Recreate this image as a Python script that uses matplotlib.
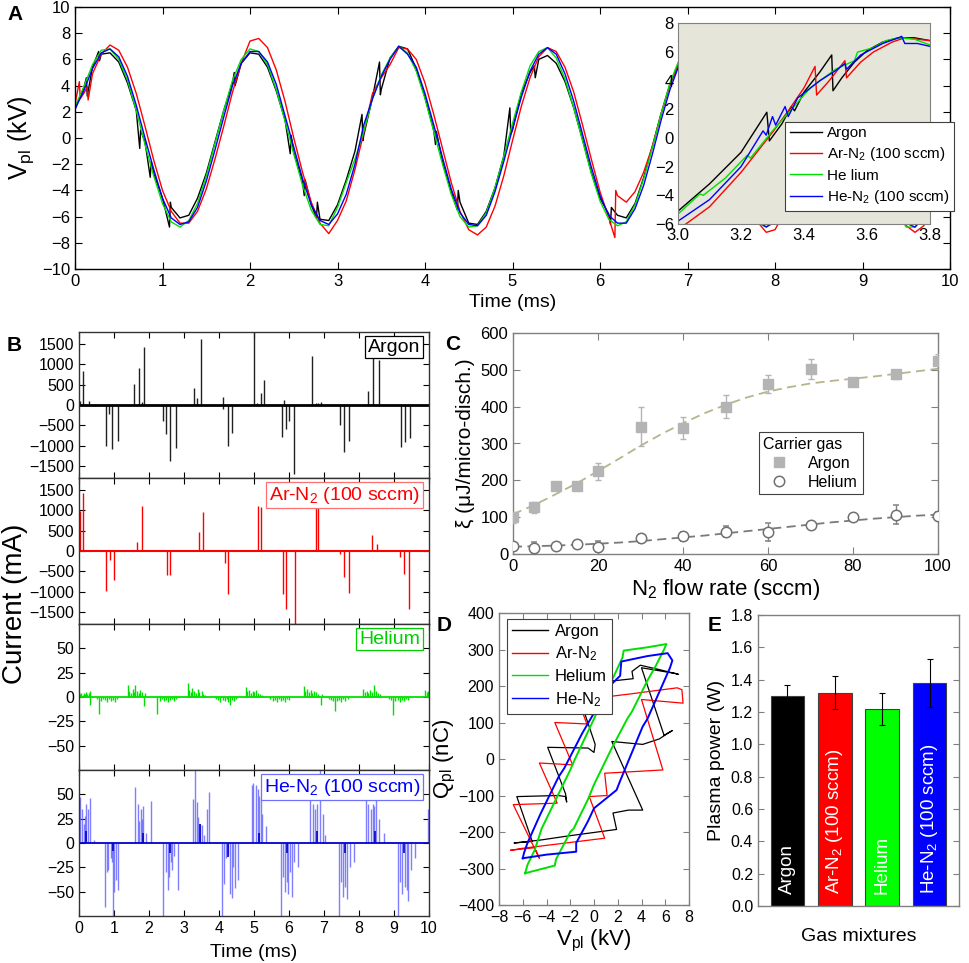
import numpy as np
import matplotlib
matplotlib.use('Agg')
import matplotlib.pyplot as plt
from matplotlib.lines import Line2D

plt.rcParams['font.family'] = ['Liberation Sans', 'DejaVu Sans']
plt.rcParams['mathtext.fontset'] = 'custom'
plt.rcParams['mathtext.rm'] = 'Liberation Sans'
plt.rcParams['mathtext.it'] = 'Liberation Sans:italic'
plt.rcParams['mathtext.bf'] = 'Liberation Sans:bold'
plt.rcParams['xtick.direction'] = 'in'
plt.rcParams['ytick.direction'] = 'in'
plt.rcParams['axes.linewidth'] = 1.0

# ---------------- Panel A data (V_pl vs time, sampled every 0.1 ms) ----------------
time_ms = np.round(np.arange(0, 10.001, 0.1), 1)
v_argon = [2.2, 3.8, 5.4, 6.4, 6.5, 5.8, 4.2, 2.1, -0.3, -2.7,
           -4.6, -5.3, -6.1, -5.9, -4.6, -2.7, -0.3, 2.1, 4.2, 5.7,
           6.5, 6.4, 5.4, 3.6, 1.4, -1.1, -3.3, -5.1, -6.2, -6.3,
           -5.1, -3.2, -1.0, 0.2, 3.1, 3.7, 6.1, 7.0, 6.8, 5.3,
           3.1, 0.6, -1.8, -4.1, -4.9, -6.5, -6.6, -5.6, -3.8, -1.4,
           0.6, 3.4, 5.0, 6.0, 6.3, 5.7, 4.3, 2.3, -0.1, -2.6,
           -4.6, -5.8, -5.9, -6.1, -5.0, -3.0, -0.6, 1.9, 4.1, 5.7,
           6.5, 6.5, 5.6, 3.9, 1.6, -0.9, -3.3, -5.1, -6.3, -6.6,
           -6.0, -4.5, -2.4, 0.1, 2.5, 4.6, 6.0, 6.6, 6.3, 5.1,
           3.2, 0.8, -1.7, -3.9, -5.6, -6.5, -6.5, -5.6, -3.9, -1.6,
           1.0]
v_arn2 = [2.6, 3.4, 4.9, 6.4, 7.1, 6.7, 5.4, 3.4, 0.9, -1.7,
          -4.0, -5.6, -6.5, -6.5, -5.6, -3.9, -1.6, 0.9, 3.5, 5.7,
          7.4, 7.6, 6.9, 5.2, 2.8, 0.0, -2.6, -4.9, -6.5, -7.3,
          -6.3, -4.8, -2.4, 0.4, 3.4, 4.6, 5.6, 6.9, 6.8, 6.0,
          4.2, 1.8, -0.8, -3.4, -5.6, -7.0, -7.4, -6.8, -5.2, -2.9,
          -0.2, 2.4, 4.6, 6.2, 6.9, 6.6, 5.4, 3.5, 1.0, -1.6,
          -4.1, -6.1, -4.4, -4.9, -4.1, -2.6, -0.6, 1.9, 4.1, 5.6,
          6.7, 7.1, 6.6, 5.1, 2.9, 0.3, -2.4, -4.7, -6.4, -7.2,
          -7.0, -5.8, -3.8, -1.3, 1.4, 3.9, 5.8, 6.9, 7.0, 6.2,
          4.5, 2.1, -0.5, -3.1, -5.3, -6.7, -7.2, -6.7, -5.2, -3.0,
          0.7]
v_helium = [2.4, 3.9, 5.6, 6.7, 6.8, 6.0, 4.4, 2.1, -0.5, -2.9,
            -5.0, -6.4, -6.8, -6.3, -5.0, -2.9, -0.4, 2.1, 4.4, 6.0,
            6.8, 6.6, 5.6, 3.7, 1.3, -1.2, -3.6, -5.5, -6.6, -6.7,
            -5.3, -3.4, -1.6, 0.5, 3.0, 4.8, 6.1, 7.0, 6.5, 5.1,
            3.0, 0.5, -2.0, -4.3, -6.0, -6.8, -6.7, -5.7, -3.8, -1.4,
            1.1, 3.5, 5.5, 6.6, 6.9, 6.1, 4.5, 2.3, -0.2, -2.7,
            -4.8, -6.2, -6.7, -6.4, -5.1, -3.1, -0.7, 1.9, 4.2, 5.9,
            6.8, 6.7, 5.7, 3.9, 1.5, -1.0, -3.4, -5.3, -6.5, -6.8,
            -6.1, -4.6, -2.4, 0.1, 2.6, 4.8, 6.3, 6.9, 6.5, 5.3,
            3.3, 0.8, -1.8, -4.1, -5.8, -6.8, -6.8, -5.8, -4.0, -1.7,
            1.1]
v_hen2 = [2.2, 3.6, 5.3, 6.5, 6.8, 6.2, 4.7, 2.5, 0.0, -2.4,
          -4.6, -6.1, -6.6, -6.4, -5.3, -3.3, -0.9, 1.6, 4.0, 5.7,
          6.6, 6.6, 5.8, 4.1, 1.7, -0.7, -3.1, -5.1, -6.3, -6.6,
          -5.8, -4.3, -2.0, 1.0, 3.0, 4.7, 6.0, 7.0, 6.4, 5.4,
          3.4, 1.0, -1.5, -3.9, -5.7, -6.6, -6.7, -5.9, -4.1, -1.8,
          0.7, 3.1, 5.1, 6.4, 6.9, 6.4, 4.9, 2.8, 0.3, -2.2,
          -4.4, -5.9, -6.5, -6.5, -5.4, -3.6, -1.2, 1.4, 3.7, 5.5,
          6.6, 6.8, 6.0, 4.3, 2.0, -0.5, -3.0, -5.0, -6.3, -6.8,
          -6.4, -5.0, -3.0, -0.5, 2.1, 4.3, 5.9, 6.8, 6.7, 5.7,
          3.8, 1.4, -1.2, -3.5, -5.4, -6.5, -6.8, -6.1, -4.5, -2.3,
          1.0]
# discharge jumps (extra read points)
jump_t_argon = [0.13, 0.14, 0.27, 0.28, 0.74, 0.75, 0.86, 0.87, 1.08, 1.09, 1.82, 1.83,
                2.46, 2.47, 2.62, 2.63, 2.76, 2.77, 3.28, 3.29, 3.48, 3.49, 4.12, 4.13,
                4.37, 4.38, 4.97, 4.98, 5.25, 5.26, 6.12, 6.13]
jump_v_argon = [4.6, 3.2, 6.6, 5.9, -0.8, 0.6, -3.0, -1.8, -6.8, -4.9, 5.0, 4.0,
                -1.2, 0.2, -4.4, -3.2, -6.1, -4.9, 1.8, -0.2, 5.8, 3.3, -0.5, 0.5,
                -5.5, -4.0, 2.3, 0.3, 5.5, 4.6, -6.6, -5.3]
jump_t_arn2 = [0.05, 0.06, 0.14, 0.15, 6.17, 6.18]
jump_v_arn2 = [4.3, 3.0, 3.9, 2.9, -7.6, -4.0]

# inset (3.0-3.8 ms)
ins_t_argon = [3.00, 3.10, 3.20, 3.282, 3.29, 3.33, 3.36, 3.37, 3.40, 3.45, 3.488, 3.492,
               3.52, 3.56, 3.60, 3.65, 3.70, 3.75, 3.80]
ins_v_argon = [-5.1, -3.2, -1.0, 1.8, -0.2, 1.0, 2.2, 1.9, 3.2, 4.6, 5.8, 3.3,
               4.2, 5.3, 6.1, 6.7, 7.0, 7.0, 6.8]
ins_t_arn2 = [3.00, 3.10, 3.20, 3.30, 3.35, 3.40, 3.435, 3.44, 3.48, 3.53, 3.535, 3.58,
              3.62, 3.68, 3.72, 3.76, 3.80]
ins_v_arn2 = [-6.4, -4.8, -2.4, 0.4, 1.9, 3.5, 5.0, 3.0, 4.0, 5.4, 4.2, 5.3,
              6.0, 6.7, 7.0, 6.9, 6.8]
ins_t_he = [3.00, 3.07, 3.08, 3.15, 3.22, 3.23, 3.30, 3.36, 3.42, 3.50, 3.56, 3.57,
            3.62, 3.66, 3.70, 3.75, 3.80]
ins_v_he = [-5.3, -3.9, -4.0, -2.8, -1.2, -1.4, 0.5, 2.0, 3.5, 4.8, 5.4, 6.0,
            6.3, 6.8, 7.0, 6.9, 6.5]
ins_t_hen2 = [3.00, 3.10, 3.20, 3.27, 3.28, 3.30, 3.31, 3.34, 3.35, 3.38, 3.45, 3.50,
              3.53, 3.535, 3.58, 3.65, 3.70, 3.71, 3.72, 3.76, 3.80]
ins_v_hen2 = [-5.8, -4.3, -2.0, 0.5, 0.2, 1.5, 0.9, 2.2, 1.5, 2.8, 4.0, 4.7,
              5.2, 4.8, 5.8, 6.6, 7.0, 7.1, 6.6, 6.6, 6.4]
legend_A = ['Argon', 'Ar-N$_2$ (100 sccm)', 'He lium', 'He-N$_2$ (100 sccm)']

# ---------------- Panel B data (current spikes, mA) ----------------
spk_t_argon = [0.03, 0.12, 0.28, 1.57, 1.70, 1.79, 1.87, 3.29, 3.36, 3.49, 4.10, 5.00,
               5.09, 5.20, 5.29, 5.85, 6.66, 6.76, 6.82, 6.91, 8.26, 8.41, 8.58,
               0.76, 0.85, 0.95, 1.10, 2.41, 2.48, 2.61, 2.76, 4.10, 4.26, 4.38,
               5.79, 5.90, 6.00, 6.14, 7.46, 7.58, 7.70, 9.19, 9.30, 9.46]
spk_v_argon = [100, 850, 100, 530, 920, 80, 1430, 420, 170, 1620, 200, 1790,
               50, 300, 620, 120, 1200, 60, 60, 80, 340, 1300, 1100,
               -1010, -220, -1080, -880, -390, -720, -1370, -1070, -100, -1000, -700,
               -790, -580, -400, -1690, -490, -1170, -900, -1040, -910, -820]
spk_t_arn2 = [0.04, 0.10, 1.65, 1.80, 3.43, 3.53, 5.11, 5.20, 6.60, 6.77, 6.83, 8.36, 8.51,
              0.78, 0.89, 1.01, 2.52, 2.60, 4.18, 4.26, 5.84, 5.90, 6.18, 7.47, 7.56,
              7.72, 9.17, 9.28, 9.44]
spk_v_arn2 = [990, 1420, 230, 1110, 470, 950, 1100, 1080, 30, 1150, 1150, 390, 180,
              -990, -230, -725, -600, -580, -300, -1055, -1070, -1420, -1800, -80, -635,
              -1045, -150, -560, -1440]
spk_t_he = [0.01, 0.04, 0.07, 0.10, 0.13, 0.16, 0.20, 0.24, 0.28, 0.30, 0.31,
            0.52, 0.57, 0.62, 0.68, 0.74, 0.80, 0.86, 0.92, 0.98, 1.03, 1.08,
            1.39, 1.43, 1.48, 1.53, 1.57, 1.61, 1.65, 1.70, 1.75, 1.80, 1.85, 1.88,
            2.24, 2.30, 2.36, 2.42, 2.48, 2.54, 2.60, 2.66, 2.72, 2.78,
            3.10, 3.14, 3.19, 3.24, 3.29, 3.34, 3.39, 3.44, 3.50, 3.55, 3.60,
            3.92, 3.98, 4.04, 4.10, 4.16, 4.22, 4.27, 4.31, 4.36, 4.42, 4.48,
            4.77, 4.81, 4.86, 4.91, 4.96, 5.01, 5.06, 5.12, 5.18, 5.24,
            5.47, 5.53, 5.59, 5.65, 5.71, 5.77, 5.83, 5.89, 5.95, 6.01,
            6.43, 6.47, 6.52, 6.57, 6.62, 6.67, 6.72, 6.78, 6.84, 6.90, 6.93,
            7.15, 7.21, 7.27, 7.30, 7.36, 7.42, 7.48, 7.54, 7.60, 7.68,
            8.12, 8.17, 8.22, 8.27, 8.32, 8.37, 8.43, 8.48, 8.54, 8.60,
            8.85, 8.91, 8.98, 9.04, 9.10, 9.16, 9.22, 9.28, 9.34, 9.40,
            9.88, 9.93, 9.97]
spk_v_he = [5, 3, 4, 2, 4, 3, 5, 3, 4, 6, -8,
            -2, -17, -4, -2, -3, -5, -2, -4, -3, -5, -2,
            12, 6, 4, 8, 5, 12, 6, 4, 7, 5, -9, 4,
            -17, -4, -2, -4, -3, -5, -3, -2, -4, -2,
            14, 7, 5, 9, 6, 4, 8, 5, 6, 3, 2,
            -2, -3, -5, -3, -4, -2, -5, -8, -3, -4, -2,
            10, 6, 7, 4, 6, 5, 7, 4, 3, 2,
            -2, -4, -3, -5, -2, -4, -3, -5, -2, -3,
            11, 6, 8, 5, 7, 4, 6, 5, 3, -8, 3,
            -2, -3, -4, -14, -4, -3, -5, -2, -4, -2,
            8, 5, 6, 4, 7, 5, 12, 6, 4, 3,
            -2, -3, -19, -4, -3, -5, -3, -4, -2, -3,
            7, 5, 6]
spk_t_hen2 = [0.03, 0.08, 0.14, 0.18, 0.21, 0.25, 0.30, 0.44,
              1.60, 1.69, 1.71, 1.76, 1.79, 1.84, 1.90, 2.05,
              3.25, 3.31, 3.36, 3.41, 3.46, 3.50, 3.57, 3.65, 3.72,
              4.93, 4.98, 5.05, 5.11, 5.15, 5.19, 5.24, 5.34,
              6.60, 6.68, 6.74, 6.81, 6.89, 6.96, 7.03,
              8.21, 8.27, 8.34, 8.40, 8.44, 8.49, 8.57, 8.71, 9.98,
              0.74, 0.79, 0.84, 0.90, 0.94, 0.97, 1.01, 1.05, 1.10,
              2.41, 2.48, 2.53, 2.58, 2.62, 2.67, 2.71, 2.82,
              4.08, 4.14, 4.19, 4.25, 4.31, 4.37, 4.41, 4.47, 4.53,
              5.76, 5.83, 5.88, 5.93, 5.97, 6.02, 6.08, 6.14, 6.27,
              7.43, 7.49, 7.55, 7.61, 7.67, 7.73, 7.87,
              9.10, 9.17, 9.24, 9.30, 9.36, 9.41, 9.48, 9.60]
spk_v_hen2 = [47, 35, 20, 28, 40, 35, 46, 3,
              58, 40, 23, 35, 25, 38, 10, 43,
              45, 75, 42, 27, 20, 18, 8, 35, 52,
              60, 62, 60, 55, 48, 45, 30, 17,
              45, 40, 35, 40, 75, 30, 8,
              60, 40, 35, 40, 38, 50, 25, 10, 35,
              -66, -30, -28, -15, -20, -75, -50, -38, -48,
              -75, -30, -48, -35, -20, -28, -13, -48,
              -75, -42, -15, -12, -52, -57, -25, -46, -38,
              -75, -35, -50, -40, -52, -30, -55, -20, -25,
              -75, -40, -55, -45, -58, -25, -20,
              -75, -40, -52, -45, -48, -60, -28, -15]
dark_t_hen2 = [0.20, 1.82, 3.45, 5.15, 6.80, 8.45, 0.98, 2.60, 4.27, 5.95, 7.60, 9.28]
dark_v_hen2 = [12, 10, 20, 10, 12, 12, -8, -10, -14, -10, -10, -10]
labels_B = ['Argon', 'Ar-N$_2$ (100 sccm)', 'Helium', 'He-N$_2$ (100 sccm)']

# ---------------- Panel C data ----------------
flow_sccm = [0, 5, 10, 15, 20, 30, 40, 50, 60, 70, 80, 90, 100]
xi_argon = [100, 127, 185, 185, 224, 346, 342, 400, 461, 502, 466, 488, 523]
xi_argon_err = [15, 15, 10, 8, 23, 53, 30, 31, 24, 28, 10, 12, 20]
xi_helium = [23, 17, 23, 26, 20, 43, 48, 60, 60, 80, 101, 107, 104]
xi_helium_err = [10, 15, 5, 5, 15, 12, 12, 15, 25, 8, 8, 25, 10]
fit_flow = [0, 5, 10, 15, 20, 25, 30, 35, 40, 45, 50, 55, 60, 65, 70, 75, 80, 85, 90, 95, 100]
fit_argon = [108, 133, 162, 192, 225, 259, 294, 326, 355, 382, 405, 425, 441, 453, 463,
             470, 476, 482, 489, 496, 503]
fit_helium = [20, 21, 23, 25, 28, 31, 35, 40, 45, 50, 56, 62, 68, 74, 80, 86, 91, 96, 100, 104, 107]

# ---------------- Panel D data (Q-V loops) ----------------
qv_V_argon = [-6.7, -5.2, -6.5, -3.0, -2.4, -2.3, -2.4, -3.9, -0.5, 0.0, 0.1, -1.2, 1.0, 3.3,
              3.2, 3.9, 5.5, 7.1, 6.9, 4.0, 5.9, 6.6, 6.2, 5.5, 4.1, 1.5, 4.1, 2.9, 1.6, 1.9,
              -2.0, -4.5, -6.7]
qv_Q_argon = [-230, -226, -103, -100, -103, -118, -95, 32, 30, 18, 40, 165, 212, 220,
              240, 257, 245, 232, 234, 250, 65, 78, 70, 55, 40, 48, -140, -140, -148, -193,
              -210, -222, -230]
qv_V_arn2 = [-7.0, -5.0, -4.6, -6.8, -3.1, -4.6, -1.8, -3.3, -0.6, -1.4, 0.2, 3.0, 7.0, 7.4,
             7.5, 4.0, 5.8, 0.9, 1.1, -0.4, 0.9, -6.1, -7.0]
qv_Q_arn2 = [-250, -243, -272, -125, -121, -11, -16, 100, 96, 165, 167, 178, 195, 190,
             153, 163, -30, -39, -100, -103, -217, -245, -250]
qv_V_he = [-5.8, -4.5, -3.3, -3.2, -2.0, -1.7, -0.5, 0.0, 1.2, 1.5, 2.8, 3.2, 4.5, 5.2, 5.9,
           6.1, 4.5, 2.5, 2.4, 1.5, 0.0, -1.6, -2.0, -3.5, -4.4, -5.0, -5.6, -5.8]
qv_Q_he = [-313, -302, -292, -275, -200, -190, -110, -70, 10, 30, 110, 130, 215, 255, 300,
           315, 306, 297, 278, 215, 110, 0, -30, -130, -190, -250, -290, -313]
qv_V_hen2 = [-6.0, -4.0, -1.5, -1.5, -0.5, 0.0, 1.9, 2.2, 4.1, 4.5, 6.4, 6.6, 6.2, 4.5, 2.3,
             2.2, 1.0, 0.0, -1.0, -2.5, -3.0, -4.5, -5.6, -5.9, -6.0]
qv_Q_hen2 = [-272, -262, -254, -230, -170, -135, -85, -60, 89, 110, 250, 270, 290, 282, 267,
             228, 190, 126, 70, -25, -50, -150, -230, -258, -272]
legend_D = ['Argon', 'Ar-N$_2$', 'Helium', 'He-N$_2$']

# ---------------- Panel E data ----------------
gas_mixtures = ['Argon', 'Ar-N$_2$ (100 sccm)', 'Helium', 'He-N$_2$ (100 sccm)']
plasma_power = [1.30, 1.32, 1.22, 1.38]
plasma_power_err = [0.07, 0.10, 0.10, 0.15]

C_BLACK, C_RED, C_GREEN, C_BLUE = '#000000', '#ff0000', '#00e000', '#0000ff'

W, H = 969, 963


def box(x0, y0, x1, y1):
    return [x0 / W, 1 - y1 / H, (x1 - x0) / W, (y1 - y0) / H]


def merged(t, v, et, ev):
    tt = np.concatenate([np.asarray(t, float), np.asarray(et, float)])
    vv = np.concatenate([np.asarray(v, float), np.asarray(ev, float)])
    o = np.argsort(tt, kind='stable')
    return tt[o], vv[o]


fig = plt.figure(figsize=(W / 100, H / 100), dpi=100)

# ================= Panel A =================
axA = fig.add_axes(box(75, 7, 950, 269))
ta, va = merged(time_ms, v_argon, jump_t_argon, jump_v_argon)
tr, vr = merged(time_ms, v_arn2, jump_t_arn2, jump_v_arn2)
axA.plot(ta, va, color=C_BLACK, lw=1.0)
axA.plot(tr, vr, color=C_RED, lw=1.0)
axA.plot(time_ms, v_helium, color=C_GREEN, lw=1.0)
axA.plot(time_ms, v_hen2, color=C_BLUE, lw=1.0)
axA.set_xlim(0, 10)
axA.set_ylim(-10, 10)
axA.set_xticks(range(0, 11))
axA.set_yticks(range(-10, 11, 2))
axA.tick_params(labelsize=12, top=True, right=True, length=5)
axA.set_xlabel('Time (ms)', fontsize=14, labelpad=4)
axA.set_ylabel(r'V$_\mathrm{pl}$ (kV)', fontsize=18, labelpad=4)

axI = fig.add_axes(box(678, 23, 930, 224))
axI.set_facecolor('#e5e5d9')
l1, = axI.plot(ins_t_argon, ins_v_argon, color=C_BLACK, lw=1.0)
l2, = axI.plot(ins_t_arn2, ins_v_arn2, color=C_RED, lw=1.0)
l3, = axI.plot(ins_t_he, ins_v_he, color=C_GREEN, lw=1.0)
l4, = axI.plot(ins_t_hen2, ins_v_hen2, color=C_BLUE, lw=1.0)
axI.set_xlim(3.0, 3.8)
axI.set_ylim(-6.0, 8.03)
inset_yt = [-6, -4, -2, 0, 2, 4, 6, 8]
axI.set_yticks(inset_yt)
axI.set_yticklabels([('\u2212' + str(-v)) if v < 0 else str(v) for v in inset_yt])
axI.set_xticks([3.0, 3.2, 3.4, 3.6, 3.8])
axI.set_xticklabels(['3.0', '3.2', '3.4', '3.6', '3.8'])
axI.tick_params(labelsize=12, length=0, pad=3)
for s in axI.spines.values():
    s.set_color('#808080')
    s.set_linewidth(0.8)
legA = axI.legend([l1, l2, l3, l4], legend_A, loc='lower right', bbox_to_anchor=(1.095, 0.066),
                  fontsize=11, fancybox=False, edgecolor='#404040', framealpha=1,
                  handlelength=2.1, borderpad=0.3, labelspacing=0.35, handletextpad=0.3,
                  borderaxespad=0)
legA.get_frame().set_linewidth(0.8)

# ================= Panel B =================
tops = [332, 478, 624, 770]
axB = [fig.add_axes(box(79, tp, 429, tp + 146)) for tp in tops]
a0, a1, a2, a3 = axB
a0.vlines(spk_t_argon, 0, spk_v_argon, colors='#202020', lw=1.0)
a0.axhline(0, color='#000000', lw=2.0)
a1.vlines(spk_t_arn2, 0, spk_v_arn2, colors=C_RED, lw=1.0)
a1.axhline(0, color=C_RED, lw=1.5)
a2.vlines(spk_t_he, 0, spk_v_he, colors=C_GREEN, lw=1.0)
a2.axhline(0, color=C_GREEN, lw=1.3)
a3.vlines(spk_t_hen2, 0, spk_v_hen2, colors='#6a6aff', lw=1.0, alpha=0.85)
a3.vlines(dark_t_hen2, 0, dark_v_hen2, colors='#0000c0', lw=1.2)
a3.axhline(0, color='#0000d0', lw=1.3)
for ax in (a0, a1):
    ax.set_ylim(-1800, 1800)
    ax.set_yticks(range(-1500, 1501, 500))
for ax in (a2, a3):
    ax.set_ylim(-75, 75)
    ax.set_yticks([-50, -25, 0, 25, 50])
for i, ax in enumerate(axB):
    ax.set_xlim(0, 10)
    ax.set_xticks(range(0, 11))
    ax.tick_params(labelsize=11.5, top=True, right=True, length=4)
    for s in ax.spines.values():
        s.set_color('#333333')
    if i < 3:
        ax.set_xticklabels([])
a3.set_xlabel('Time (ms)', fontsize=14, labelpad=6)
box_cols = [('#000000', '#000000'), (C_RED, '#ff7070'), ('#00d000', '#00d000'), (C_BLUE, '#7070ff')]
for ax, lab, (tc, ec) in zip(axB, labels_B, box_cols):
    ax.text(0.975, 0.955, lab, transform=ax.transAxes, ha='right', va='top', fontsize=14,
            color=tc, zorder=5,
            bbox=dict(boxstyle='square,pad=0.15', fc='white', ec=ec, lw=0.9))
fig.text(15 / W, 1 - 604 / H, 'Current (mA)', rotation=90, ha='center', va='center', fontsize=20)

# ================= Panel C =================
axC = fig.add_axes(box(513, 333, 938, 554))
axC.plot(fit_flow, fit_argon, ls=(0, (5, 3)), color='#b8b48c', lw=1.3, zorder=1)
axC.plot(fit_flow, fit_helium, ls=(0, (5, 3)), color='#7a7a7a', lw=1.3, zorder=1)
axC.errorbar(flow_sccm, xi_argon, yerr=xi_argon_err, fmt='s', color='#b4b4b4', ms=7.5,
             capsize=2.5, elinewidth=1.0, capthick=1.0, zorder=3)
axC.errorbar(flow_sccm, xi_helium, yerr=xi_helium_err, fmt='o', mfc='white', mec='#707070',
             mew=1.1, ecolor='#808080', ms=7.5, capsize=2.5, elinewidth=1.0, capthick=1.0, zorder=3)
axC.set_xlim(0, 100)
axC.set_ylim(0, 600)
axC.set_xticks(range(0, 101, 20))
axC.set_yticks(range(0, 601, 100))
axC.tick_params(labelsize=12, top=True, right=True, length=5, color='#808080')
for s in axC.spines.values():
    s.set_color('#808080')
axC.set_xlabel('N$_2$ flow rate (sccm)', fontsize=16, labelpad=2)
axC.set_ylabel('ξ (μJ/micro-disch.)', fontsize=15, labelpad=4)
hC = [Line2D([], [], marker='s', color='#b4b4b4', ls='none', ms=7.5),
      Line2D([], [], marker='o', mfc='white', mec='#707070', mew=1.1, ls='none', ms=7.5)]
legC = axC.legend(hC, ['Argon', 'Helium'], title='Carrier gas', loc='upper left',
                  bbox_to_anchor=(0.578, 0.553), fontsize=11.5, title_fontsize=11.5,
                  fancybox=False, edgecolor='#404040', framealpha=1, alignment='left',
                  borderpad=0.3, labelspacing=0.25, handletextpad=0.8, borderaxespad=0)
legC.get_frame().set_linewidth(0.8)

# ================= Panel D =================
axD = fig.add_axes(box(499, 613, 689, 905))
d1, = axD.plot(qv_V_argon, qv_Q_argon, color=C_BLACK, lw=0.9)
d2, = axD.plot(qv_V_arn2, qv_Q_arn2, color=C_RED, lw=0.9)
d3, = axD.plot(qv_V_he, qv_Q_he, color=C_GREEN, lw=1.4)
d4, = axD.plot(qv_V_hen2, qv_Q_hen2, color=C_BLUE, lw=1.4)
axD.set_xlim(-8, 8)
axD.set_ylim(-400, 400)
axD.set_xticks(range(-8, 9, 2))
axD.set_yticks(range(-400, 401, 100))
axD.tick_params(labelsize=11.5, top=True, right=True, length=4, color='#808080')
for s in axD.spines.values():
    s.set_color('#808080')
axD.set_xlabel(r'V$_\mathrm{pl}$ (kV)', fontsize=16, labelpad=2)
axD.set_ylabel(r'Q$_\mathrm{pl}$ (nC)', fontsize=16, labelpad=0)
legD = axD.legend([d1, d2, d3, d4], legend_D, loc='upper left', bbox_to_anchor=(0.04, 0.98),
                  fontsize=12, fancybox=False, edgecolor='#404040', framealpha=1,
                  handlelength=2.2, borderpad=0.3, labelspacing=0.35, handletextpad=0.4,
                  borderaxespad=0)
legD.get_frame().set_linewidth(0.8)
for ln in legD.get_lines():
    ln.set_linewidth(1.0)

# ================= Panel E =================
axE = fig.add_axes(box(758, 615, 959, 906))
xpos = np.arange(len(gas_mixtures))
axE.bar(xpos, plasma_power, width=0.71, color=['#000000', '#ff0000', '#00ff00', '#0000ff'],
        edgecolor='#404040', lw=0.8, zorder=2)
axE.errorbar(xpos, plasma_power, yerr=plasma_power_err, fmt='none', ecolor='#000000',
             elinewidth=0.8, capsize=2.5, capthick=0.8, zorder=3)
for x, lab in zip(xpos, gas_mixtures):
    axE.text(x, 0.075, lab, rotation=90, ha='center', va='bottom', color='white',
             fontsize=13.5, zorder=4)
axE.set_xlim(-0.62, 3.62)
axE.set_ylim(0, 1.8)
axE.set_xticks([])
axE.set_yticks(np.round(np.arange(0, 1.81, 0.2), 1))
axE.set_yticklabels([f'{v:.1f}' for v in np.arange(0, 1.81, 0.2)])
axE.tick_params(axis='y', labelsize=11.5, right=True, length=4, color='#808080')
for s in axE.spines.values():
    s.set_color('#808080')
axE.set_xlabel('Gas mixtures', fontsize=14, labelpad=16)
axE.set_ylabel('Plasma power (W)', fontsize=14, labelpad=4)

# panel letters
for lab, x, y in [('A', 7, 5), ('B', 7, 336), ('C', 445, 335), ('D', 437, 616), ('E', 708, 616)]:
    fig.text(x / W, 1 - y / H, lab, fontsize=15, fontweight='bold', ha='left', va='top')

fig.savefig('out.png', dpi=100)
